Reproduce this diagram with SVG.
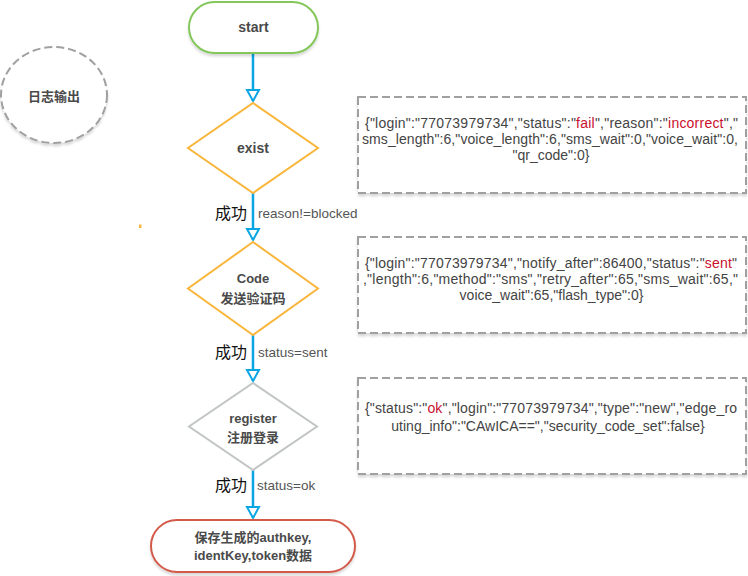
<svg xmlns="http://www.w3.org/2000/svg" width="748" height="576" viewBox="0 0 748 576">
<style>
text{font-family:"Liberation Sans","Noto Sans CJK SC",sans-serif;fill:#4a4a4a}
.n{font-size:13px;font-weight:bold;text-anchor:middle;dominant-baseline:central}
.b{font-size:14px;text-anchor:middle;fill:#444}
.r{fill:#c8102e}
.ok{font-size:16px;fill:#111}
.cond{font-size:13.5px;fill:#555}
.edge{stroke:#0aa6e4;stroke-width:2.5;fill:none;marker-end:url(#arr)}
.dash{fill:#fff;stroke:#a0a0a0;stroke-width:2;stroke-dasharray:8 4}
.sh{filter:url(#shadow)}
</style>
<defs>
<marker id="arr" markerUnits="userSpaceOnUse" viewBox="-2 -2 16 16" markerWidth="16" markerHeight="16" refX="11" refY="6" orient="auto">
<path d="M0,0 L11,6 L0,12 Z" fill="#fff" stroke="#0aa6e4" stroke-width="2" stroke-linejoin="miter"/>
</marker>
<filter id="shadow" x="-10%" y="-10%" width="120%" height="130%">
<feDropShadow dx="0" dy="2.5" stdDeviation="0.8" flood-color="#000" flood-opacity="0.15"/>
</filter>
</defs>

<g id="connectors">
<line class="edge" x1="253" y1="53" x2="253" y2="101"/>
<line class="edge" x1="253" y1="193" x2="253" y2="240"/>
<line class="edge" x1="253" y1="335" x2="253" y2="381"/>
<line class="edge" x1="253" y1="470" x2="253" y2="518"/>
<text class="ok" x="215" y="219">成功</text>
<text class="cond" x="258" y="218">reason!=blocked</text>
<text class="ok" x="215" y="358">成功</text>
<text class="cond" x="258" y="357">status=sent</text>
<text class="ok" x="215" y="491">成功</text>
<text class="cond" x="257" y="490">status=ok</text>
</g>

<g id="log">
<ellipse class="sh" cx="54" cy="95" rx="53" ry="48" fill="#fff" stroke="#a0a0a0" stroke-width="2" stroke-dasharray="8 4"/>
<text class="n" x="54" y="96">日志输出</text>
</g>

<g id="start">
<rect class="sh" x="189" y="2" width="129" height="51" rx="25.5" fill="#fff" stroke="#83c75a" stroke-width="2"/>
<text class="n" x="253.5" y="27" style="font-size:14px">start</text>
</g>

<g id="exist">
<polygon points="253,103 318,148 253,193 188,148" fill="#fff" stroke="#f9b63d" stroke-width="2"/>
<text class="n" x="253" y="148" style="font-size:14px">exist</text>
</g>

<g id="code">
<polygon points="253,242 318,288.5 253,335 188,288.5" fill="#fff" stroke="#f9b63d" stroke-width="2"/>
<text class="n" x="253" y="278">Code</text>
<text class="n" x="253" y="298">发送验证码</text>
</g>

<g id="register">
<polygon points="253,383 317,426.5 253,470 189,426.5" fill="#fff" stroke="#c2c5c5" stroke-width="2"/>
<text class="n" x="253" y="418">register</text>
<text class="n" x="253" y="437">注册登录</text>
</g>

<g id="end">
<rect class="sh" x="151" y="520" width="204" height="52" rx="26" fill="#fff" stroke="#d35a4a" stroke-width="2"/>
<text class="n" x="253" y="537">保存生成的authkey,</text>
<text class="n" x="253" y="555">identKey,token数据</text>
</g>

<g id="log-exist">
<rect class="dash sh" x="358" y="97" width="388" height="96"/>
<text class="b" x="551.5" y="128" textLength="373" lengthAdjust="spacing">{"login":"77073979734","status":"<tspan class="r">fail</tspan>","reason":"<tspan class="r">incorrect</tspan>","</text>
<text class="b" x="550" y="144" textLength="376" lengthAdjust="spacing">sms_length":6,"voice_length":6,"sms_wait":0,"voice_wait":0,</text>
<text class="b" x="551" y="160">"qr_code":0}</text>
</g>

<g id="log-code">
<rect class="dash sh" x="358" y="237" width="388" height="96"/>
<text class="b" x="551" y="268" textLength="372" lengthAdjust="spacing">{"login":"77073979734","notify_after":86400,"status":"<tspan class="r">sent</tspan>"</text>
<text class="b" x="550.5" y="284" textLength="375" lengthAdjust="spacing">,"length":6,"method":"sms","retry_after":65,"sms_wait":65,"</text>
<text class="b" x="551.5" y="300">voice_wait":65,"flash_type":0}</text>
</g>

<g id="log-register">
<rect class="dash sh" x="358" y="378" width="388" height="96"/>
<text class="b" x="551" y="412.5" textLength="372" lengthAdjust="spacing">{"status":"<tspan class="r">ok</tspan>","login":"77073979734","type":"new","edge_ro</text>
<text class="b" x="548" y="430.5">uting_info":"CAwICA==","security_code_set":false}</text>
</g>

<g id="mark">
<rect x="139" y="224.5" width="2.5" height="3.5" fill="#f9b63d"/>
</g>
</svg>
